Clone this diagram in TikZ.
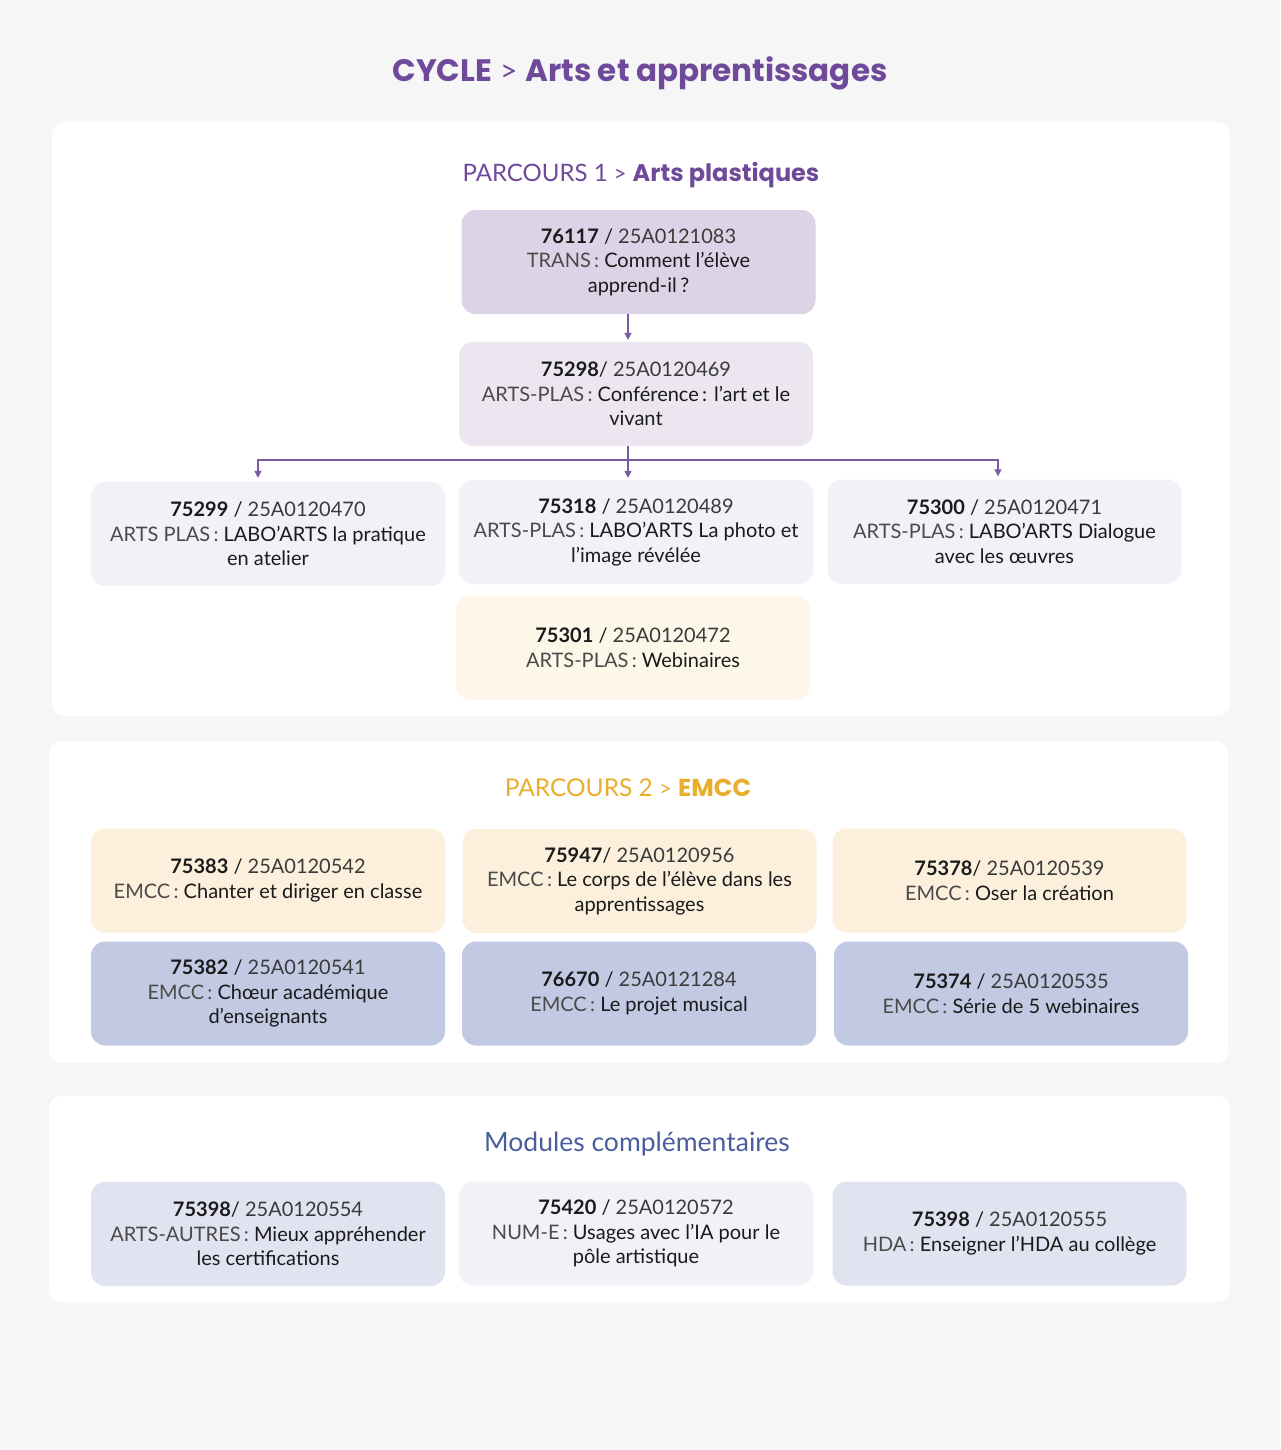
\documentclass[tikz,border=0pt]{standalone}
\usepackage{fontspec}
\setmainfont{Lato}
\newfontfamily\heavyfont{Poppins}
\usetikzlibrary{arrows.meta,calc}
\definecolor{bgc}{HTML}{F6F6F6}
\definecolor{purp}{HTML}{6F4A9A}
\definecolor{arrowc}{HTML}{7A5AA0}
\definecolor{gold}{HTML}{E9AE2C}
\definecolor{modc}{HTML}{4A5E9E}
\definecolor{fA}{HTML}{DCD3E7}
\definecolor{fB}{HTML}{ECE6F1}
\definecolor{fC}{HTML}{F3F1F7}
\definecolor{fD}{HTML}{FCF7E8}
\definecolor{fE}{HTML}{FCF0DD}
\definecolor{fF}{HTML}{C2C9E3}
\definecolor{fG}{HTML}{E1E4F0}
\definecolor{txtc}{HTML}{1A1A1A}
\definecolor{codec}{HTML}{3A3A3A}
\definecolor{prec}{HTML}{4A4A4A}
\newcommand\numb[1]{{\bfseries #1}}
\newcommand\codeid[1]{{\color{codec}#1}}
\newcommand\prfx[1]{{\color{prec}#1\,:}}
\newcommand\sq{\char"0027\relax}
\tikzset{
  panel/.style={fill=white, rounded corners=12pt},
  box/.style={rounded corners=14pt, minimum width=354pt, minimum height=104pt,
    align=center, inner sep=0pt, text=txtc, font=\fontsize{20}{24.5}\selectfont},
  arr/.style={draw=arrowc, line width=1.2pt, -{Triangle[length=7pt,width=7pt]}},
  lin/.style={draw=arrowc, line width=1.2pt}
}
\begin{document}
\begin{tikzpicture}[x=1pt,y=-1pt]
\fill[bgc] (0,0) rectangle (1280,1450);
\useasboundingbox (0,0) rectangle (1280,1450);
% panels
\fill[panel] (52,122) rectangle (1230,716);
\fill[panel] (49,741) rectangle (1228,1063);
\fill[panel] (49,1096) rectangle (1230,1302);
% titles
\node[anchor=base, text=purp, font=\fontsize{31}{36}\selectfont] (maintitle) at (640,82)
  {{\heavyfont\bfseries CYCLE} {\fontsize{30}{30}\selectfont >} {\heavyfont\bfseries Arts et apprentissages}};
\node[anchor=base, text=purp, font=\fontsize{24}{28}\selectfont] (p1title) at (641,182)
  {PARCOURS 1 {\fontsize{22}{24}\selectfont >} {\heavyfont\bfseries Arts plastiques}};
\node[anchor=base, text=gold, font=\fontsize{24.5}{28}\selectfont] (p2title) at (628,796)
  {PARCOURS 2 {\fontsize{22}{24}\selectfont >} {\heavyfont\bfseries EMCC}};
\node[anchor=base, text=modc, font=\fontsize{26.5}{28}\selectfont] (modtitle) at (637,1151)
  {Modules complémentaires};
% parcours 1
\node[box, fill=fA] (n76117) at (638.5,262)
  {\numb{76117} / \codeid{25A0121083}\\ \prfx{TRANS} Comment l\sq élève\\ apprend-il\,?};
\node[box, fill=fB] (n75298) at (636,394)
  {\numb{75298}/ \codeid{25A0120469}\\ \prfx{ARTS-PLAS} Conférence\,: l’art et le\\ vivant};
\node[box, fill=fC] (n75299) at (268,534)
  {\numb{75299} / \codeid{25A0120470}\\ \prfx{ARTS PLAS} LABO’ARTS la pratique\\ en atelier};
\node[box, fill=fC] (n75318) at (636,532)
  {\numb{75318} / \codeid{25A0120489}\\ \prfx{ARTS-PLAS} LABO’ARTS La photo et\\ l’image révélée};
\node[box, fill=fC] (n75300) at (1004.5,531.5)
  {\numb{75300} / \codeid{25A0120471}\\ \prfx{ARTS-PLAS} LABO’ARTS Dialogue\\ avec les œuvres};
\node[box, fill=fD] (n75301) at (633,647.5)
  {\numb{75301} / \codeid{25A0120472}\\ \prfx{ARTS-PLAS} Webinaires};
% connectors
\coordinate (xa) at (628,0);
\coordinate (bus) at (628,460);
\coordinate (xl) at (258,0);
\coordinate (xr) at (998,0);
\draw[arr, shorten >=2pt] (n76117.south -| xa) -- (n75298.north -| xa);
\draw[lin] (n75298.south -| xa) -- (bus);
\draw[arr, shorten >=4pt] (bus) -| (n75299.north -| xl);
\draw[arr, shorten >=2pt] (bus) -- (n75318.north -| xa);
\draw[arr, shorten >=3pt] (bus) -| (n75300.north -| xr);
% parcours 2
\node[box, fill=fE] (n75383) at (268,880.5)
  {\numb{75383} / \codeid{25A0120542}\\ \prfx{EMCC} Chanter et diriger en classe};
\node[box, fill=fE] (n75947) at (639.5,881)
  {\numb{75947}/ \codeid{25A0120956}\\ \prfx{EMCC} Le corps de l’élève dans les\\ apprentissages};
\node[box, fill=fE] (n75378) at (1009.5,880.5)
  {\numb{75378}/ \codeid{25A0120539}\\ \prfx{EMCC} Oser la création};
\node[box, fill=fF] (n75382) at (268,993.5)
  {\numb{75382} / \codeid{25A0120541}\\ \prfx{EMCC} Chœur académique\\ d\sq enseignants};
\node[box, fill=fF] (n76670) at (639,993.5)
  {\numb{76670} / \codeid{25A0121284}\\ \prfx{EMCC} Le projet musical};
\node[box, fill=fF] (n75374) at (1011,993.5)
  {\numb{75374} / \codeid{25A0120535}\\ \prfx{EMCC} Série de 5 webinaires};
% modules
\node[box, fill=fG] (n75398a) at (268,1234)
  {\numb{75398}/ \codeid{25A0120554}\\ \prfx{ARTS-AUTRES} Mieux appréhender\\ les certifications};
\node[box, fill=fC] (n75420) at (636,1233.5)
  {\numb{75420} / \codeid{25A0120572}\\ \prfx{NUM-E} Usages avec l’IA pour le\\ pôle artistique};
\node[box, fill=fG] (n75398b) at (1009.5,1233.5)
  {\numb{75398} / \codeid{25A0120555}\\ \prfx{HDA} Enseigner l’HDA au collège};
\end{tikzpicture}
\end{document}
